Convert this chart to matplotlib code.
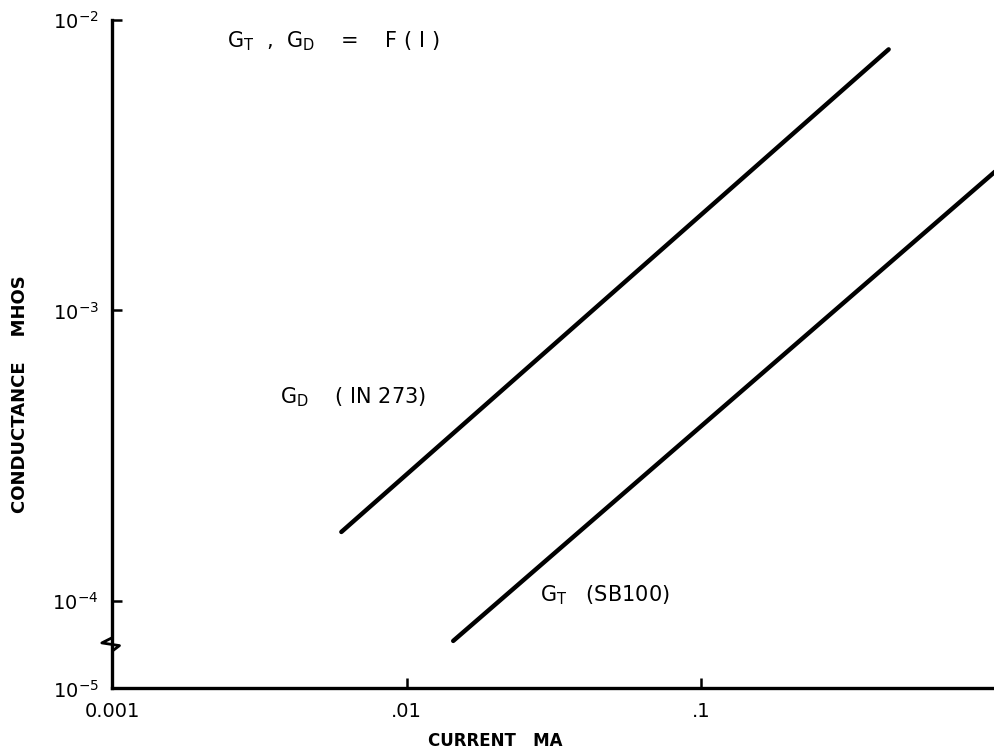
import numpy as np
import matplotlib.pyplot as plt

# data (current in mA, conductance in mhos)
gd_current = [0.006, 0.435]
gd_conductance = [1.73e-4, 7.9e-3]
gt_current = [0.0144, 1.0]
gt_conductance = [7.3e-5, 3.0e-3]

x_ticks = [0.001, 0.01, 0.1]
x_ticklabels = ["0.001", ".01", ".1"]
y_bottom = 10 ** -4.3   # axis is broken below 10^-4, bottom is labelled 10^-5
y_ticks = [1e-2, 1e-3, 1e-4, y_bottom]
y_ticklabels = [r"$10^{-2}$", r"$10^{-3}$", r"$10^{-4}$", r"$10^{-5}$"]

plt.rcParams['font.family'] = ['DejaVu Sans']
plt.rcParams['mathtext.fontset'] = 'dejavusans'

fig = plt.figure(figsize=(9.95, 7.54), dpi=100)
ax = fig.add_axes([0.113, 0.087, 0.887, 0.887])

ax.plot(gd_current, gd_conductance, color="black", lw=3.2, solid_capstyle="round")
ax.plot(gt_current, gt_conductance, color="black", lw=3.2, solid_capstyle="round")

ax.set_xscale("log")
ax.set_yscale("log")
ax.set_xlim(0.001, 1.0)
ax.set_ylim(y_bottom, 1e-2)

ax.set_xticks(x_ticks)
ax.set_xticklabels(x_ticklabels)
ax.set_yticks(y_ticks)
ax.set_yticklabels(y_ticklabels)
ax.minorticks_off()
ax.tick_params(axis="both", direction="in", length=7, width=1.8, labelsize=14)
ax.tick_params(axis="x", pad=10)
ax.tick_params(axis="y", pad=10)

for s in ["top", "right"]:
    ax.spines[s].set_visible(False)
for s in ["left", "bottom"]:
    ax.spines[s].set_linewidth(2.4)

# axis break symbol on the y axis
yb = 0.068
ax.plot([0, 0, -0.012, 0.008, 0, 0], [yb + 0.03, yb + 0.008, yb, yb - 0.004, yb - 0.012, yb - 0.03],
        transform=ax.transAxes, color="black", lw=2.0, clip_on=False, zorder=5)

ax.set_xlabel("CURRENT   MA", fontsize=12, fontweight="bold")
ax.xaxis.set_label_coords(0.434, -0.065)
ax.set_ylabel("CONDUCTANCE    MHOS", fontsize=13, fontweight="bold")
ax.yaxis.set_label_coords(-0.095, 0.44)

ax.text(0.13, 0.985, r"G$_\mathrm{T}$  ,  G$_\mathrm{D}$    =    F ( I )", transform=ax.transAxes,
        fontsize=15, va="top", ha="left")
ax.text(0.19, 0.435, r"G$_\mathrm{D}$    ( IN 273)", transform=ax.transAxes,
        fontsize=15, va="center", ha="left")
ax.text(0.484, 0.14, r"G$_\mathrm{T}$   (SB100)", transform=ax.transAxes,
        fontsize=15, va="center", ha="left")

fig.savefig("out.png", dpi=100)
